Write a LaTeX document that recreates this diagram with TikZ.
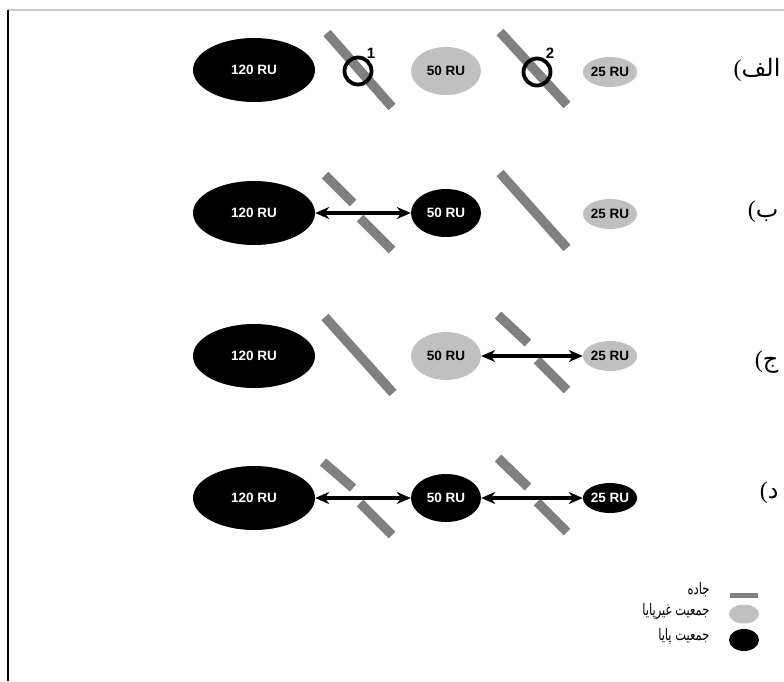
\documentclass[tikz,border=0pt]{standalone}
\usepackage{fontspec}
\setmainfont{Liberation Sans}
\newfontfamily\arabicfont[Script=Arabic]{DejaVu Sans}
\newfontfamily\legendfont[Script=Arabic, FakeStretch=0.72]{DejaVu Sans}
\newfontfamily\parenfont{Liberation Serif}
\TeXXeTstate=1
\usetikzlibrary{shapes.geometric,arrows.meta}

\definecolor{roadgray}{RGB}{128,128,128}
\definecolor{popgray}{RGB}{192,192,192}
\definecolor{framegray}{RGB}{200,200,200}
\newcommand{\rufont}{\fontsize{13.5}{15}\selectfont\bfseries}
\newcommand{\rowtag}[1]{{\parenfont(}{\arabicfont\beginR #1\endR}}

\tikzset{
  stablepop/.style={ellipse, fill=black, text=white, inner sep=0pt, font=\rufont},
  unstablepop/.style={ellipse, fill=popgray, text=black, inner sep=0pt, font=\rufont},
  sizeL/.style={minimum width=122pt, minimum height=64pt},
  sizeM/.style={minimum width=70pt, minimum height=48pt},
  sizeS/.style={minimum width=47pt, minimum height=30pt},
  road/.style={draw=roadgray, line width=9.5pt},
  crossing/.style={circle, draw=black, line width=3.8pt, minimum size=27pt, inner sep=0pt},
  rowlabel/.style={anchor=east, font=\fontsize{24}{27}\selectfont},
  legendtext/.style={anchor=east, font=\legendfont\fontsize{16}{18}\selectfont},
  link/.style={<->, line width=3.2pt}
}

\begin{document}
\begin{tikzpicture}[x=1pt, y=-1pt, >={Stealth[length=14pt, width=12pt]}]
    \useasboundingbox (0,0) rectangle (784,681);
    % Frame
    \draw[framegray, line width=1.2pt] (8,10) -- (784,10);
    \draw[black, line width=1.5pt] (8,10) -- (8,681);

    % Row a
    \draw[road] (327,33) -- (392,107);
    \draw[road] (500,32) -- (567,105);
    \node (a120) [stablepop, sizeL] at (254,70) {120 RU};
    \node (a50) [unstablepop, sizeM] at (446,71) {50 RU};
    \node (a25) [unstablepop, sizeS] at (610,72) {25 RU};
    \node (ring1) [crossing] at (358,71) {};
    \node (ring2) [crossing] at (537,72) {};
    \node (n1) [font=\fontsize{15}{17}\selectfont\bfseries] at (371,53) {1};
    \node (n2) [font=\fontsize{15}{17}\selectfont\bfseries] at (550,53) {2};
    \node (la) [rowlabel] at (784,70) {\rowtag{الف}};

    % Row b
    \draw[road] (325,175) -- (353,203);
    \draw[road] (360,218) -- (392,250);
    \draw[road] (500,173) -- (567,248);
    \node (b120) [stablepop, sizeL] at (254,213) {120 RU};
    \node (b50) [stablepop, sizeM] at (446,213) {50 RU};
    \node (b25) [unstablepop, sizeS] at (610,214) {25 RU};
    \draw[link] (b120) -- (b50);
    \node (lb) [rowlabel] at (782,212) {\rowtag{ب}};

    % Row c
    \draw[road] (325,317) -- (393,393);
    \draw[road] (498,315) -- (528,343);
    \draw[road] (537,360) -- (567,390);
    \node (c120) [stablepop, sizeL] at (254,356) {120 RU};
    \node (c50) [unstablepop, sizeM] at (446,356) {50 RU};
    \node (c25) [unstablepop, sizeS] at (610,356) {25 RU};
    \draw[link] (c50) -- (c25);
    \node (lc) [rowlabel] at (782,362) {\rowtag{ج}};

    % Row d
    \draw[road] (323,462) -- (353,488);
    \draw[road] (360,503) -- (392,535);
    \draw[road] (498,458) -- (528,487);
    \draw[road] (537,502) -- (567,532);
    \node (d120) [stablepop, sizeL] at (254,498) {120 RU};
    \node (d50) [stablepop, sizeM] at (446,498) {50 RU};
    \node (d25) [stablepop, sizeS] at (610,498) {25 RU};
    \draw[link] (d120) -- (d50);
    \draw[link] (d50) -- (d25);
    \node (ld) [rowlabel] at (782,493) {\rowtag{د}};

    % Legend
    \draw[road, line width=5pt] (730,595) -- (758,595);
    \node (kunstable) [ellipse, fill=popgray, minimum width=30pt, minimum height=19pt, inner sep=0pt] at (744,614) {};
    \node (kstable) [ellipse, fill=black, minimum width=30pt, minimum height=22pt, inner sep=0pt] at (744,640) {};
    \node (troad) [legendtext] at (713,590) {\beginR جاده\endR};
    \node (tunstable) [legendtext] at (713,611) {\beginR جمعیت غیرپایا\endR};
    \node (tstable) [legendtext] at (713,636) {\beginR جمعیت پایا\endR};
\end{tikzpicture}
\end{document}
